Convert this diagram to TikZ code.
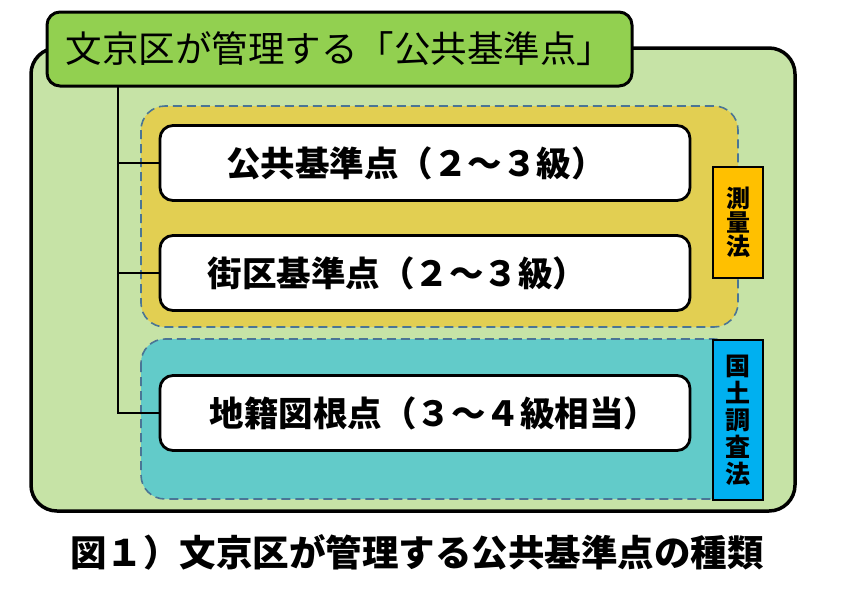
\documentclass[tikz,border=0pt]{standalone}
\usepackage{fontspec}
\setmainfont{Noto Sans CJK JP}
\begin{document}
\begin{tikzpicture}[x=1pt,y=-1pt,
  frame/.style={draw=black,line width=3.5pt},
  group/.style={draw=dashblue,dashed,dash pattern=on 9pt off 5pt,line width=1.6pt,rounded corners=24pt},
  item/.style={draw=black,line width=2.8pt,fill=white,rounded corners=13pt,minimum width=530pt,minimum height=75pt,inner sep=0pt,font=\bfseries\fontsize{34.5}{36}\selectfont},
  law/.style={draw=black,line width=2pt,inner sep=0pt,minimum width=50pt,align=center},
  conn/.style={draw=black,line width=2.5pt}]
\definecolor{outergreen}{HTML}{C6E3A6}
\definecolor{titlegreen}{HTML}{92D050}
\definecolor{yellowgrp}{HTML}{E2CF52}
\definecolor{cyangrp}{HTML}{62CBC9}
\definecolor{dashblue}{HTML}{4A7595}
\definecolor{orangelbl}{HTML}{FFC000}
\definecolor{bluelbl}{HTML}{00B0F0}
\useasboundingbox (0,0) rectangle (842,595);
% outer
\draw[frame,fill=outergreen,rounded corners=26pt] (31,48) rectangle (795,511);
% groups
\path[group,fill=yellowgrp] (141,106) rectangle (738,327);
\path[group,fill=cyangrp] (141,339) rectangle (738,499);
% law labels
\node[law,fill=orangelbl,minimum height=111pt,font=\bfseries\fontsize{24}{24}\selectfont] (sokuryo) at (738,222) {測\\量\\法};
\node[law,fill=bluelbl,minimum height=160pt,font=\bfseries\fontsize{25}{27}\selectfont] (kokudo) at (738,420) {国\\土\\調\\査\\法};
% items
\node[item] (b1) at (425,163) {\hspace*{-18pt}公共基準点（２～３級）};
\node[item] (b2) at (425,273) {\hspace*{-55pt}街区基準点（２～３級）};
\node[item] (b3) at (425,413) {\hspace*{18pt}地籍図根点（３～４級相当）};
% title
\node[frame,line width=3pt,fill=titlegreen,rounded corners=13pt,minimum width=585pt,minimum height=74pt,inner sep=0pt,font=\fontsize{36.5}{38}\selectfont] (title) at (339.5,49) {文京区が管理する「公共基準点」};
% connectors
\coordinate (trunk) at (118,86);
\draw[conn] (trunk) |- (b3.west);
\draw[conn] (trunk |- b1.west) -- (b1.west);
\draw[conn] (trunk |- b2.west) -- (b2.west);
% caption
\node[font=\bfseries\fontsize{36.5}{38}\selectfont] (caption) at (417,552) {図１）文京区が管理する公共基準点の種類};
\end{tikzpicture}
\end{document}
